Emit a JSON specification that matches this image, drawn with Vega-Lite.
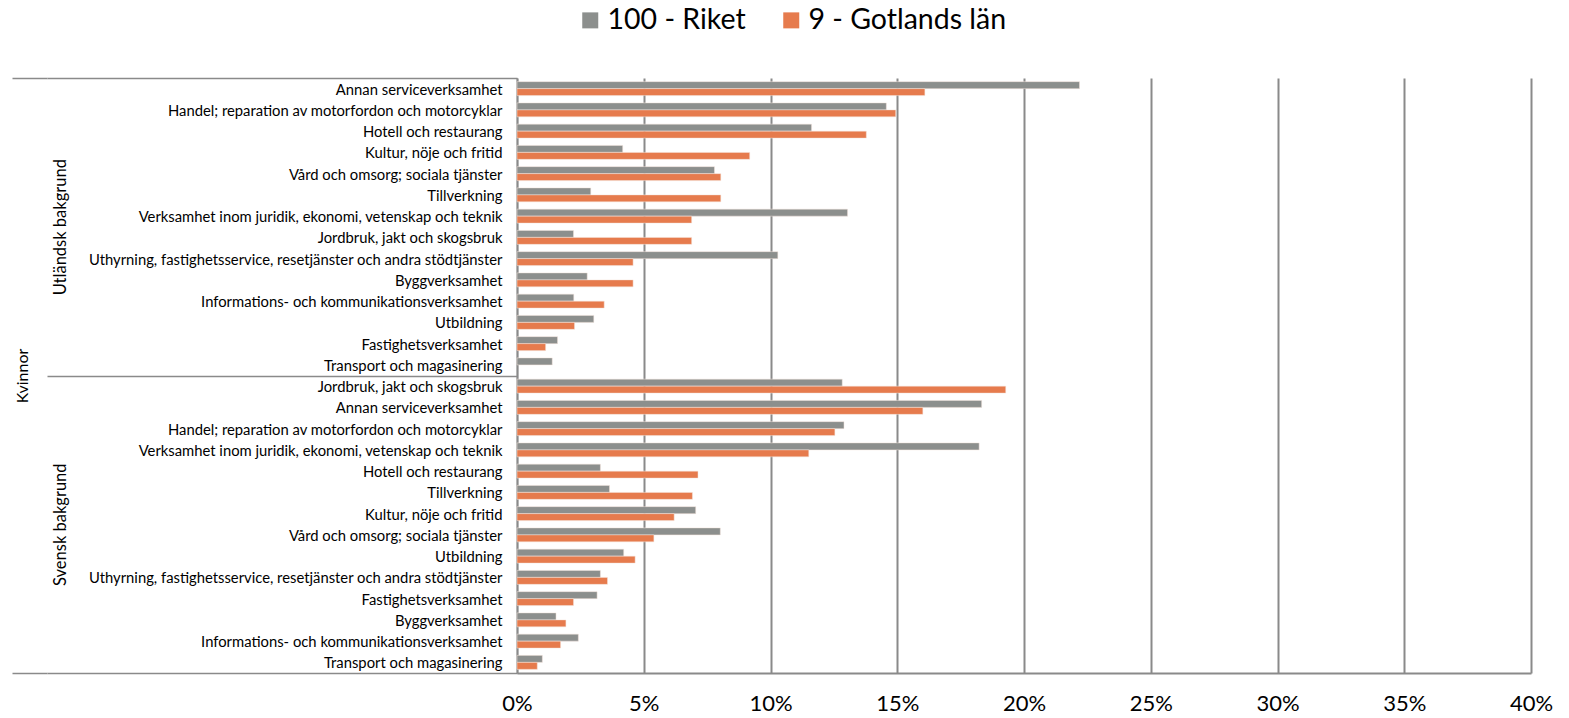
{
  "$schema": "https://vega.github.io/schema/vega-lite/v6.json",
  "width": 1014,
  "height": 595,
  "autosize": {"type": "none"},
  "padding": {"left": 517, "top": 78, "right": 38, "bottom": 45},
  "background": "white",
  "config": {
    "view": {"stroke": null},
    "font": "Lato",
    "axis": {"labelFont": "Lato", "titleFont": "Lato", "labelColor": "#000000", "titleColor": "#000000"},
    "legend": {"labelFont": "Lato"}
  },
  "data": {
    "values": [
      {"key": "Utländsk bakgrund|Annan serviceverksamhet", "serie": "100 - Riket", "andel": 22.19},
      {"key": "Utländsk bakgrund|Annan serviceverksamhet", "serie": "9 - Gotlands län", "andel": 16.09},
      {"key": "Utländsk bakgrund|Handel; reparation av motorfordon och motorcyklar", "serie": "100 - Riket", "andel": 14.57},
      {"key": "Utländsk bakgrund|Handel; reparation av motorfordon och motorcyklar", "serie": "9 - Gotlands län", "andel": 14.94},
      {"key": "Utländsk bakgrund|Hotell och restaurang", "serie": "100 - Riket", "andel": 11.62},
      {"key": "Utländsk bakgrund|Hotell och restaurang", "serie": "9 - Gotlands län", "andel": 13.78},
      {"key": "Utländsk bakgrund|Kultur, nöje och fritid", "serie": "100 - Riket", "andel": 4.17},
      {"key": "Utländsk bakgrund|Kultur, nöje och fritid", "serie": "9 - Gotlands län", "andel": 9.18},
      {"key": "Utländsk bakgrund|Vård och omsorg; sociala tjänster", "serie": "100 - Riket", "andel": 7.79},
      {"key": "Utländsk bakgrund|Vård och omsorg; sociala tjänster", "serie": "9 - Gotlands län", "andel": 8.04},
      {"key": "Utländsk bakgrund|Tillverkning", "serie": "100 - Riket", "andel": 2.91},
      {"key": "Utländsk bakgrund|Tillverkning", "serie": "9 - Gotlands län", "andel": 8.04},
      {"key": "Utländsk bakgrund|Verksamhet inom juridik, ekonomi, vetenskap och teknik", "serie": "100 - Riket", "andel": 13.04},
      {"key": "Utländsk bakgrund|Verksamhet inom juridik, ekonomi, vetenskap och teknik", "serie": "9 - Gotlands län", "andel": 6.89},
      {"key": "Utländsk bakgrund|Jordbruk, jakt och skogsbruk", "serie": "100 - Riket", "andel": 2.23},
      {"key": "Utländsk bakgrund|Jordbruk, jakt och skogsbruk", "serie": "9 - Gotlands län", "andel": 6.89},
      {"key": "Utländsk bakgrund|Uthyrning, fastighetsservice, resetjänster och andra stödtjänster", "serie": "100 - Riket", "andel": 10.29},
      {"key": "Utländsk bakgrund|Uthyrning, fastighetsservice, resetjänster och andra stödtjänster", "serie": "9 - Gotlands län", "andel": 4.58},
      {"key": "Utländsk bakgrund|Byggverksamhet", "serie": "100 - Riket", "andel": 2.77},
      {"key": "Utländsk bakgrund|Byggverksamhet", "serie": "9 - Gotlands län", "andel": 4.58},
      {"key": "Utländsk bakgrund|Informations- och kommunikationsverksamhet", "serie": "100 - Riket", "andel": 2.24},
      {"key": "Utländsk bakgrund|Informations- och kommunikationsverksamhet", "serie": "9 - Gotlands län", "andel": 3.44},
      {"key": "Utländsk bakgrund|Utbildning", "serie": "100 - Riket", "andel": 3.03},
      {"key": "Utländsk bakgrund|Utbildning", "serie": "9 - Gotlands län", "andel": 2.27},
      {"key": "Utländsk bakgrund|Fastighetsverksamhet", "serie": "100 - Riket", "andel": 1.60},
      {"key": "Utländsk bakgrund|Fastighetsverksamhet", "serie": "9 - Gotlands län", "andel": 1.13},
      {"key": "Utländsk bakgrund|Transport och magasinering", "serie": "100 - Riket", "andel": 1.39},
      {"key": "Utländsk bakgrund|Transport och magasinering", "serie": "9 - Gotlands län", "andel": null},
      {"key": "Svensk bakgrund|Jordbruk, jakt och skogsbruk", "serie": "100 - Riket", "andel": 12.83},
      {"key": "Svensk bakgrund|Jordbruk, jakt och skogsbruk", "serie": "9 - Gotlands län", "andel": 19.28},
      {"key": "Svensk bakgrund|Annan serviceverksamhet", "serie": "100 - Riket", "andel": 18.33},
      {"key": "Svensk bakgrund|Annan serviceverksamhet", "serie": "9 - Gotlands län", "andel": 16.01},
      {"key": "Svensk bakgrund|Handel; reparation av motorfordon och motorcyklar", "serie": "100 - Riket", "andel": 12.90},
      {"key": "Svensk bakgrund|Handel; reparation av motorfordon och motorcyklar", "serie": "9 - Gotlands län", "andel": 12.54},
      {"key": "Svensk bakgrund|Verksamhet inom juridik, ekonomi, vetenskap och teknik", "serie": "100 - Riket", "andel": 18.23},
      {"key": "Svensk bakgrund|Verksamhet inom juridik, ekonomi, vetenskap och teknik", "serie": "9 - Gotlands län", "andel": 11.51},
      {"key": "Svensk bakgrund|Hotell och restaurang", "serie": "100 - Riket", "andel": 3.29},
      {"key": "Svensk bakgrund|Hotell och restaurang", "serie": "9 - Gotlands län", "andel": 7.14},
      {"key": "Svensk bakgrund|Tillverkning", "serie": "100 - Riket", "andel": 3.65},
      {"key": "Svensk bakgrund|Tillverkning", "serie": "9 - Gotlands län", "andel": 6.92},
      {"key": "Svensk bakgrund|Kultur, nöje och fritid", "serie": "100 - Riket", "andel": 7.05},
      {"key": "Svensk bakgrund|Kultur, nöje och fritid", "serie": "9 - Gotlands län", "andel": 6.20},
      {"key": "Svensk bakgrund|Vård och omsorg; sociala tjänster", "serie": "100 - Riket", "andel": 8.02},
      {"key": "Svensk bakgrund|Vård och omsorg; sociala tjänster", "serie": "9 - Gotlands län", "andel": 5.40},
      {"key": "Svensk bakgrund|Utbildning", "serie": "100 - Riket", "andel": 4.21},
      {"key": "Svensk bakgrund|Utbildning", "serie": "9 - Gotlands län", "andel": 4.66},
      {"key": "Svensk bakgrund|Uthyrning, fastighetsservice, resetjänster och andra stödtjänster", "serie": "100 - Riket", "andel": 3.29},
      {"key": "Svensk bakgrund|Uthyrning, fastighetsservice, resetjänster och andra stödtjänster", "serie": "9 - Gotlands län", "andel": 3.57},
      {"key": "Svensk bakgrund|Fastighetsverksamhet", "serie": "100 - Riket", "andel": 3.16},
      {"key": "Svensk bakgrund|Fastighetsverksamhet", "serie": "9 - Gotlands län", "andel": 2.23},
      {"key": "Svensk bakgrund|Byggverksamhet", "serie": "100 - Riket", "andel": 1.54},
      {"key": "Svensk bakgrund|Byggverksamhet", "serie": "9 - Gotlands län", "andel": 1.93},
      {"key": "Svensk bakgrund|Informations- och kommunikationsverksamhet", "serie": "100 - Riket", "andel": 2.42},
      {"key": "Svensk bakgrund|Informations- och kommunikationsverksamhet", "serie": "9 - Gotlands län", "andel": 1.72},
      {"key": "Svensk bakgrund|Transport och magasinering", "serie": "100 - Riket", "andel": 1.00},
      {"key": "Svensk bakgrund|Transport och magasinering", "serie": "9 - Gotlands län", "andel": 0.80}
    ]
  },
  "layer": [
    {
      "mark": {"type": "bar", "stroke": "#f4e4dc", "strokeWidth": 0.5},
      "encoding": {
        "y": {
          "field": "key",
          "type": "nominal",
          "sort": null,
          "scale": {"paddingInner": 0, "paddingOuter": 0},
          "axis": {
            "orient": "left",
            "title": null,
            "labelExpr": "split(datum.label, '|')[1]",
            "labelFontSize": 14.8,
            "labelPadding": -455,
            "labelOffset": 1.5,
            "labelOverlap": false,
            "labelLimit": 0,
            "tickBand": "extent",
            "ticks": true,
            "tickSize": 470,
            "tickWidth": 1.5,
            "tickColor": "#8a8a8a",
            "tickOpacity": {
              "condition": {
                "test": "datum.extra || datum.value === 'Utländsk bakgrund|Transport och magasinering' || datum.value === 'Svensk bakgrund|Transport och magasinering'",
                "value": 1
              },
              "value": 0
            },
            "domain": true,
            "domainColor": "#8a8a8a",
            "domainWidth": 1.5,
            "grid": false
          }
        },
        "yOffset": {
          "field": "serie",
          "type": "nominal",
          "sort": ["100 - Riket", "9 - Gotlands län"],
          "scale": {"paddingInner": 0, "paddingOuter": 0.52}
        },
        "x": {
          "field": "andel",
          "type": "quantitative",
          "scale": {"domain": [0, 40], "nice": false},
          "axis": {
            "title": null,
            "values": [0, 5, 10, 15, 20, 25, 30, 35, 40],
            "labelExpr": "datum.value + '%'",
            "labelFontSize": 22,
            "labelPadding": 20,
            "labelFlush": false,
            "ticks": false,
            "domain": true,
            "domainColor": "#8a8a8a",
            "domainWidth": 2,
            "grid": true,
            "gridColor": "#8a8a8a",
            "gridWidth": 2
          }
        },
        "color": {
          "field": "serie",
          "type": "nominal",
          "scale": {"domain": ["100 - Riket", "9 - Gotlands län"], "range": ["#8c8f8d", "#e67b4d"]},
          "legend": {
            "title": null,
            "orient": "none",
            "direction": "horizontal",
            "legendX": 59,
            "legendY": -72,
            "symbolType": "square",
            "symbolSize": 256,
            "symbolStrokeWidth": 0,
            "labelFontSize": 28.5,
            "labelColor": "#000000",
            "labelOffset": 3,
            "columnPadding": 31,
            "labelLimit": 0
          }
        }
      }
    },
    {
      "mark": {"type": "bar", "opacity": 0},
      "encoding": {
        "y": {
          "field": "key",
          "type": "nominal",
          "sort": null,
          "axis": {
            "orient": "left",
            "offset": 470,
            "title": "Kvinnor",
            "titleFontSize": 16,
            "titleFontWeight": "normal",
            "titleAngle": -90,
            "titleAlign": "center",
            "titleBaseline": "middle",
            "titleX": -25,
            "titleY": 297.5,
            "labelExpr": "datum.value === 'Utländsk bakgrund|Verksamhet inom juridik, ekonomi, vetenskap och teknik' ? 'Utländsk bakgrund' : (datum.value === 'Svensk bakgrund|Kultur, nöje och fritid' ? 'Svensk bakgrund' : '')",
            "labelAngle": -90,
            "labelAlign": "center",
            "labelBaseline": "middle",
            "labelFontSize": 16.5,
            "labelPadding": -48,
            "labelOffset": 10.6,
            "labelOverlap": false,
            "labelLimit": 0,
            "tickBand": "extent",
            "ticks": true,
            "tickSize": 35,
            "tickWidth": 1.5,
            "tickColor": "#8a8a8a",
            "tickOpacity": {
              "condition": {
                "test": "datum.extra || datum.value === 'Svensk bakgrund|Transport och magasinering'",
                "value": 1
              },
              "value": 0
            },
            "domain": false,
            "grid": false
          }
        },
        "x": {"field": "andel", "type": "quantitative"}
      }
    }
  ],
  "resolve": {"axis": {"y": "independent"}}
}
